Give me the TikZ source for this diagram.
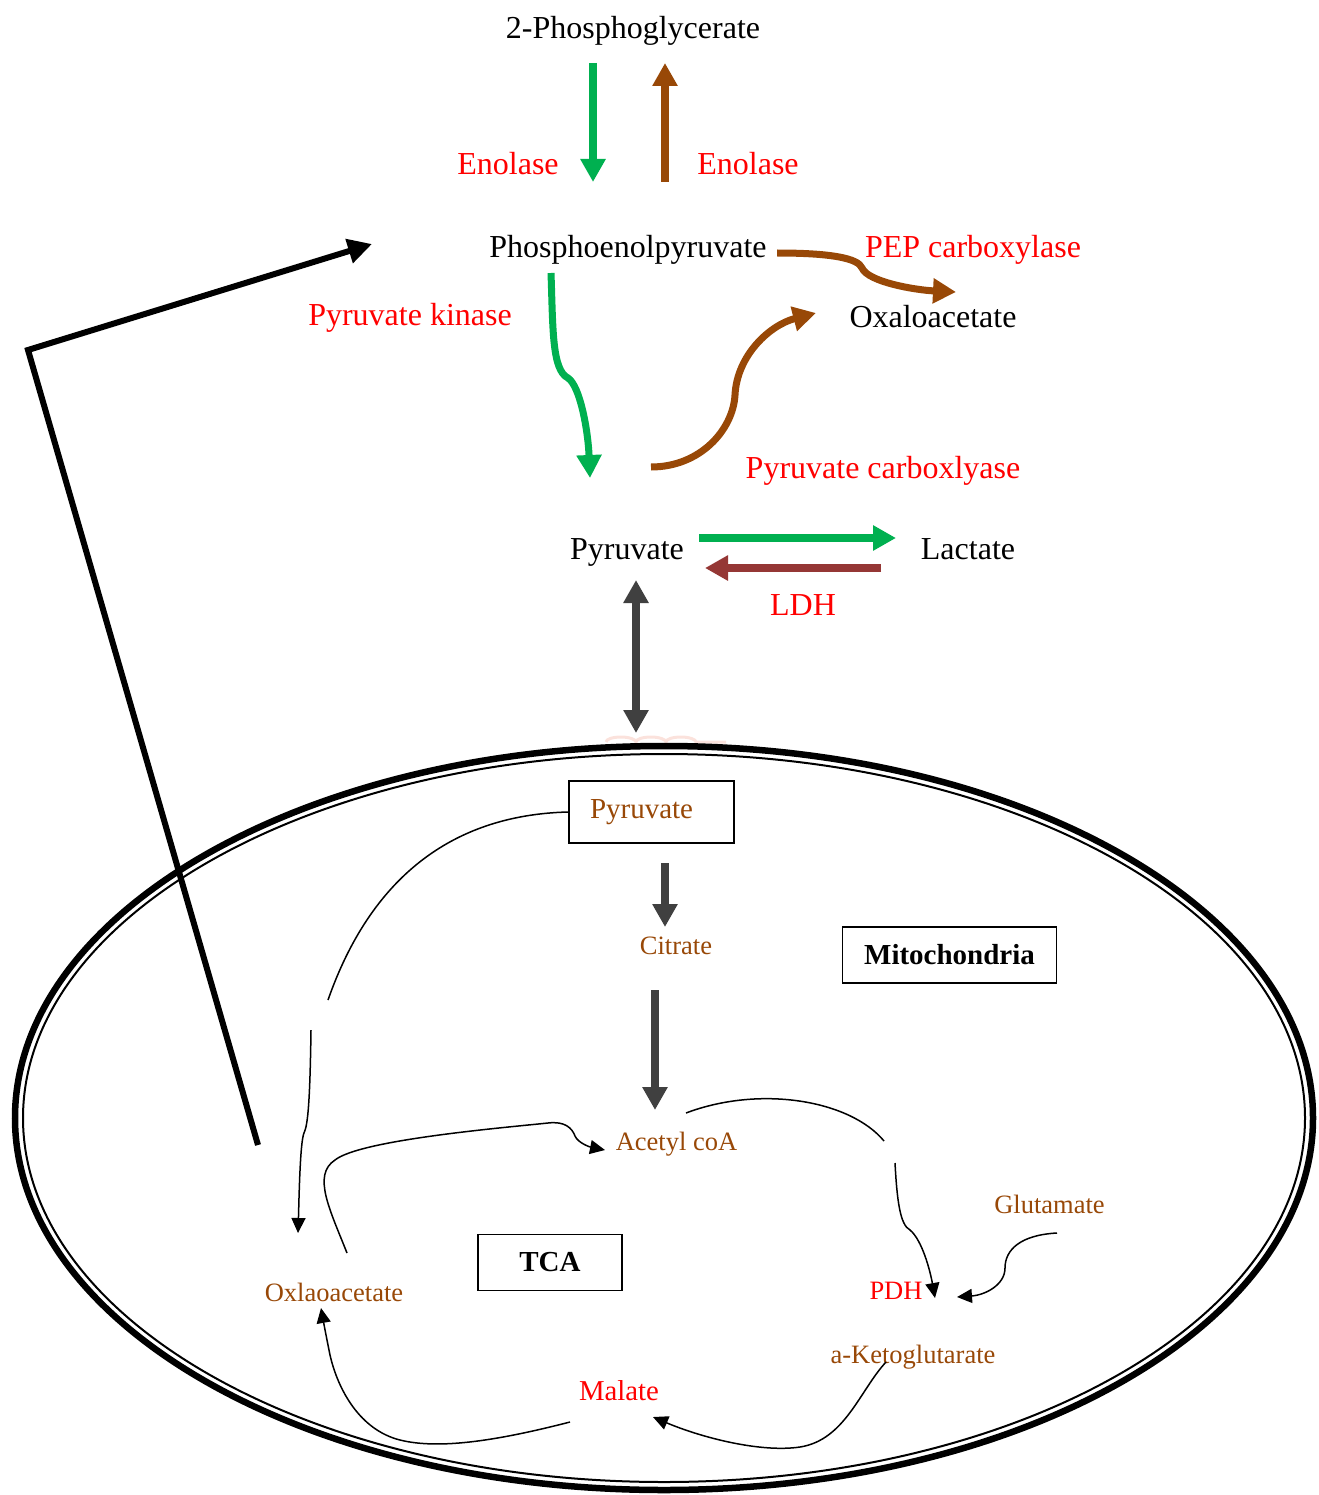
\documentclass[tikz,border=0pt]{standalone}
\usepackage{fontspec}
\setmainfont{Liberation Serif}
\usepackage{tikz}
\usetikzlibrary{arrows.meta,decorations.pathmorphing}
\definecolor{pwgreen}{HTML}{00B050}
\definecolor{pwbrown}{HTML}{984807}
\definecolor{pwred}{HTML}{FF0000}
\definecolor{pwdred}{HTML}{953735}
\definecolor{pwgrey}{HTML}{404040}
\definecolor{pwpink}{HTML}{FBE2DC}

\begin{document}
\begin{tikzpicture}[x=1pt,y=-1pt,
metab/.style={font=\fontsize{32}{38}\selectfont,inner sep=0pt,anchor=base},
enz/.style={metab,text=pwred},
mtext/.style={font=\fontsize{26.5}{32}\selectfont,inner sep=0pt,anchor=base,text=pwbrown},
lbox/.style={draw,line width=1.8pt,inner sep=0pt,font=\bfseries\fontsize{29}{34}\selectfont},
fat/.style={line width=8pt,-{Triangle[length=23pt,width=24pt]}},
slim/.style={line width=1.5pt,-{Triangle[length=15pt,width=14pt]}}
]
\useasboundingbox (0,0) rectangle (1318,1495);

% cytosol
\node[metab] (pg) at (633,39) {2-Phosphoglycerate};
\node[enz] (en1) at (508,175) {Enolase};
\node[enz] (en2) at (748,175) {Enolase};
\node[metab] (pep) at (628,258) {Phosphoenolpyruvate};
\node[enz] (pepc) at (973,258) {PEP carboxylase};
\node[metab] (oaa) at (933,327) {Oxaloacetate};
\node[enz] (pk) at (410,326) {Pyruvate kinase};
\node[enz] (pc) at (883,478) {Pyruvate carboxlyase};
\node[metab] (pyr) at (627,559) {Pyruvate};
\node[metab] (lac) at (968,559) {Lactate};
\node[enz] (ldh) at (803,615) {LDH};

\coordinate (e1a) at (593,63);   \coordinate (e1b) at (593,182);
\coordinate (e2a) at (665,182);  \coordinate (e2b) at (665,63);
\coordinate (c1a) at (777,253);  \coordinate (c1b) at (956,292);
\coordinate (k1a) at (551,273);  \coordinate (k1b) at (590,478);
\coordinate (c2a) at (651,467);  \coordinate (c2b) at (816,313);
\coordinate (l1a) at (699,538);  \coordinate (l1b) at (896,538);
\coordinate (l2a) at (881,568);  \coordinate (l2b) at (705,568);
\coordinate (x1) at (636,580);   \coordinate (x2) at (636,733);

\draw[fat,pwgreen] (e1a) -- (e1b);   \draw[fat,pwbrown] (e2a) -- (e2b);
\draw[fat,pwbrown,line width=7pt] (c1a) .. controls (830,253) and (858,258) .. (862,268)
  .. controls (868,282) and (915,290) .. (c1b);
\draw[fat,pwgreen,line width=7pt] (k1a) .. controls (553,330) and (552,370) .. (568,378)
  .. controls (580,386) and (588,430) .. (k1b);
\draw[fat,pwbrown,line width=7pt] (c2a) .. controls (700,467) and (733,430) .. (735,395)
  .. controls (737,355) and (770,325) .. (c2b);
\draw[fat,pwgreen] (l1a) -- (l1b);   \draw[fat,pwdred] (l2a) -- (l2b);
\draw[fat,pwgrey,{Triangle[length=23pt,width=24pt]}-{Triangle[length=23pt,width=24pt]}] (x1) -- (x2);

% mitochondrion
\draw[pwpink,line width=3pt,decorate,decoration={bumps,segment length=60pt,amplitude=5pt}] (606,742) -- (726,742);
\draw[line width=6.5pt] (664,1118) ellipse [x radius=649, y radius=372];
\draw[line width=2pt] (664,1118) ellipse [x radius=641, y radius=364];

\node[lbox,font=\fontsize{29}{34}\selectfont,text=pwbrown,text width=123pt,align=left,
  inner xsep=21pt,minimum height=62pt] (mpyr) at (651.5,812) {Pyruvate};
\node[lbox,minimum width=214pt,minimum height=56pt] (mito) at (949.5,955) {Mitochondria};
\node[lbox,minimum width=144pt,minimum height=56pt] (tca) at (550,1262.5) {TCA};
\node[mtext] (cit) at (676,954) {Citrate};
\node[mtext] (acoa) at (676.5,1150) {Acetyl coA};
\node[mtext] (moaa) at (334,1301) {Oxlaoacetate};
\node[mtext,text=pwred] (pdh) at (896,1299) {PDH};
\node[mtext] (glu) at (1049.5,1213) {Glutamate};
\node[mtext] (akg) at (913,1363) {a-Ketoglutarate};
\node[mtext,text=pwred,font=\fontsize{28.8}{34}\selectfont] (mal) at (619,1400) {Malate};

\coordinate (m1) at (328,1000);   \coordinate (m2) at (311,1030);   \coordinate (m3) at (298,1233);
\coordinate (m4) at (347,1253);   \coordinate (m5) at (605,1150);
\coordinate (m6) at (686,1113);   \coordinate (m7) at (884,1141);
\coordinate (m8) at (895,1163);   \coordinate (m9) at (935,1298);
\coordinate (m10) at (1057,1233); \coordinate (m11) at (957,1297);
\coordinate (m12) at (886,1362);  \coordinate (m13) at (653,1417);
\coordinate (m14) at (570,1422);  \coordinate (m15) at (321,1308);
\coordinate (m16) at (665,863);   \coordinate (m17) at (665,927);
\coordinate (m18) at (655,990);   \coordinate (m19) at (655,1110);

\draw[fat,pwgrey] (m16) -- (m17);   \draw[fat,pwgrey] (m18) -- (m19);
\draw[line width=1.5pt] (mpyr.west) .. controls (450,815) and (370,880) .. (m1);
\draw[slim] (m2) .. controls (310,1100) and (308,1125) .. (304,1133)
  .. controls (300,1142) and (299,1200) .. (m3);
\draw[slim] (m4) .. controls (330,1210) and (312,1175) .. (335,1160)
  .. controls (360,1140) and (500,1128) .. (548,1123)
  .. controls (565,1121) and (572,1128) .. (575,1136)
  .. controls (578,1143) and (590,1147) .. (m5);
\draw[line width=1.5pt] (m6) .. controls (760,1085) and (850,1100) .. (m7);
\draw[slim] (m8) .. controls (897,1200) and (900,1225) .. (910,1230)
  .. controls (922,1240) and (930,1270) .. (m9);
\draw[slim] (m10) .. controls (1020,1235) and (1005,1250) .. (1005,1268)
  .. controls (1005,1285) and (985,1295) .. (m11);
\draw[slim] (m12) .. controls (860,1390) and (845,1440) .. (800,1447)
  .. controls (760,1453) and (700,1437) .. (m13);
\draw[slim] (m14) .. controls (500,1440) and (440,1450) .. (400,1440)
  .. controls (360,1430) and (338,1390) .. (330,1355)
  .. controls (327,1340) and (325,1330) .. (m15);

\coordinate (r1) at (258,1145);  \coordinate (r2) at (28,350);  \coordinate (r3) at (372,244);
\draw[line width=6pt,miter limit=20,-{Triangle[length=24pt,width=24pt]}] (r1) -- (r2) -- (r3);
\end{tikzpicture}
\end{document}
